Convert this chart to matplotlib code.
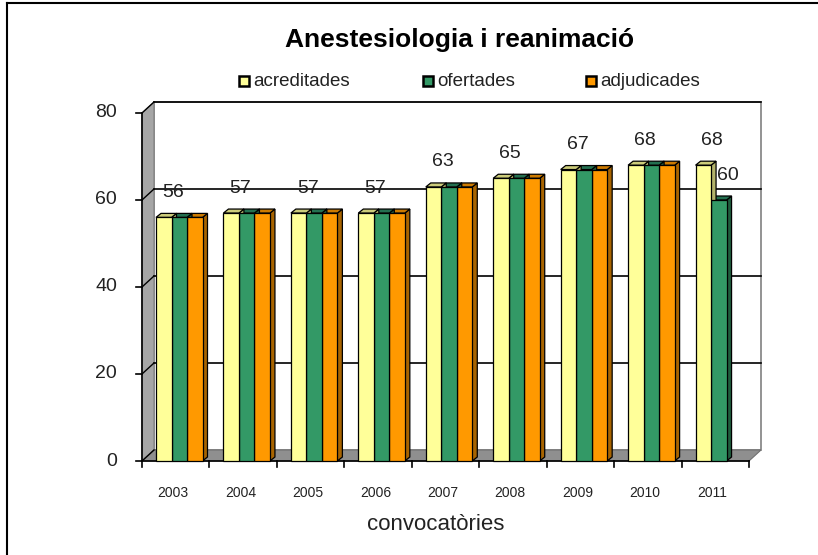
import matplotlib.pyplot as plt
from matplotlib.patches import Polygon
import numpy as np

plt.rcParams['font.family'] = ['Liberation Sans', 'DejaVu Sans']

years = ['2003', '2004', '2005', '2006', '2007', '2008', '2009', '2010', '2011']
acreditades = [56, 57, 57, 57, 63, 65, 67, 68, 68]
ofertades = [56, 57, 57, 57, 63, 65, 67, 68, 60]
adjudicades = [56, 57, 57, 57, 63, 65, 67, 68, None]

series = [('acreditades', acreditades, '#FFFF99', '#CCCC7A', '#B3B36B'),
          ('ofertades', ofertades, '#339966', '#247050', '#1F5C3D'),
          ('adjudicades', adjudicades, '#FF9900', '#CC7A00', '#A86400')]

W, H = 818, 555
fig = plt.figure(figsize=(W / 100, H / 100), dpi=100)

# front plane of the plot area in pixels
px_left, px_right = 142, 749
px_bottom, px_top = 461, 113
ax = fig.add_axes([px_left / W, 1 - px_bottom / H,
                   (px_right - px_left) / W, (px_bottom - px_top) / H])
n = len(years)
xl, xr = -0.5, n - 0.5
ymax = 80
ax.set_xlim(xl, xr)
ax.set_ylim(0, ymax)
ax.axis('off')

ppx = (px_right - px_left) / n        # pixels per category
ppy = (px_bottom - px_top) / ymax     # pixels per unit
dx = 12 / ppx
dy = 11 / ppy

kw = dict(clip_on=False)
# back wall
ax.add_patch(Polygon([(xl + dx, dy), (xr + dx, dy), (xr + dx, ymax + dy), (xl + dx, ymax + dy)],
                     closed=True, fc='white', ec='#808080', lw=1.2, zorder=0, **kw))
# left wall
ax.add_patch(Polygon([(xl, 0), (xl + dx, dy), (xl + dx, ymax + dy), (xl, ymax)],
                     closed=True, fc='#A6A6A6', ec='#808080', lw=0.8, zorder=0.5, **kw))
# floor
ax.add_patch(Polygon([(xl, 0), (xr, 0), (xr + dx, dy), (xl + dx, dy)],
                     closed=True, fc='#8F8F8F', ec='#707070', lw=0.8, zorder=0.5, **kw))

# gridlines
for v in [20, 40, 60, 80]:
    ax.plot([xl + dx, xr + dx], [v + dy, v + dy], color='black', lw=1.2, zorder=1, **kw)
    ax.plot([xl, xl + dx], [v, v + dy], color='black', lw=1.0, zorder=1, **kw)
ax.plot([xl, xl + dx], [0, dy], color='black', lw=1.0, zorder=1, **kw)

# front axes
ax.plot([xl, xl], [0, ymax], color='black', lw=1.2, zorder=5, **kw)
ax.plot([xl, xr], [0, 0], color='black', lw=1.2, zorder=5, **kw)
tick_len_x = 6 / ppx
tick_len_y = 6 / ppy
for v in range(0, 81, 20):
    ax.plot([xl - tick_len_x, xl], [v, v], color='black', lw=1.2, zorder=5, **kw)
    ax.text(xl - 25 / ppx, v, str(v), ha='right', va='center', fontsize=14, color='#222222')
for i in range(n + 1):
    ax.plot([xl + i, xl + i], [0, -tick_len_y], color='black', lw=1.2, zorder=5, **kw)
for i, yr in enumerate(years):
    ax.text(i - 0.04, -32 / ppy, yr, ha='center', va='center', fontsize=10, color='#222222')

ax.text(xl + (436 - px_left) / ppx, -63 / ppy, 'convocatòries', ha='center', va='center',
        fontsize=16, color='#222222')

# 3D-ish bars
bw = 15.5 / ppx
start = -0.5 + 14 / ppx
bdx = 5 / ppx
bdy = 4 / ppy
for k, (name, vals, fc, topc, sidec) in enumerate(series):
    for i, v in enumerate(vals):
        if v is None:
            continue
        x0 = i + start + k * bw
        x1 = x0 + bw
        z = 10 - k * 0.01 + i * 0.1
        ax.add_patch(Polygon([(x1, 0), (x1 + bdx, bdy), (x1 + bdx, v + bdy), (x1, v)],
                             closed=True, fc=sidec, ec='black', lw=0.9, zorder=z + 0.02, **kw))
        ax.add_patch(Polygon([(x0, v), (x1, v), (x1 + bdx, v + bdy), (x0 + bdx, v + bdy)],
                             closed=True, fc=topc, ec='black', lw=0.9, zorder=z + 0.02, **kw))
        ax.add_patch(Polygon([(x0, 0), (x1, 0), (x1, v), (x0, v)],
                             closed=True, fc=fc, ec='black', lw=0.9, zorder=z + 0.03, **kw))

# data labels
for i, v in enumerate(acreditades):
    x0 = i + start
    ax.text(x0 + bw / 2 + 9 / ppx, v + 25 / ppy, str(v), ha='center', va='center',
            fontsize=14, color='#222222', zorder=20)
x0 = (n - 1) + start + bw
ax.text(x0 + bw / 2 + 9 / ppx, ofertades[-1] + 24 / ppy, str(ofertades[-1]), ha='center',
        va='center', fontsize=14, color='#222222', zorder=20)

# title
fig.text(460 / W, 1 - 40 / H, 'Anestesiologia i reanimació', ha='center', va='center',
         fontsize=19, fontweight='bold', color='black')

# legend
leg_x = [244, 428, 591]
for (name, vals, fc, topc, sidec), lx in zip(series, leg_x):
    fig.patches.append(plt.Rectangle(((lx - 5) / W, 1 - 86 / H), 10 / W, 10 / H,
                                     fc=fc, ec='black', lw=1.8, transform=fig.transFigure))
    fig.text((lx + 9) / W, 1 - 81 / H, name, ha='left', va='center', fontsize=13.5,
             color='#222222')

# outer border
fig.add_artist(plt.Line2D([7 / W, 7 / W], [0, 1 - 3 / H], color='black', lw=1.5,
                          transform=fig.transFigure))
fig.add_artist(plt.Line2D([7 / W, 1], [1 - 3 / H, 1 - 3 / H], color='black', lw=1.5,
                          transform=fig.transFigure))

fig.savefig('out.png', dpi=100)
